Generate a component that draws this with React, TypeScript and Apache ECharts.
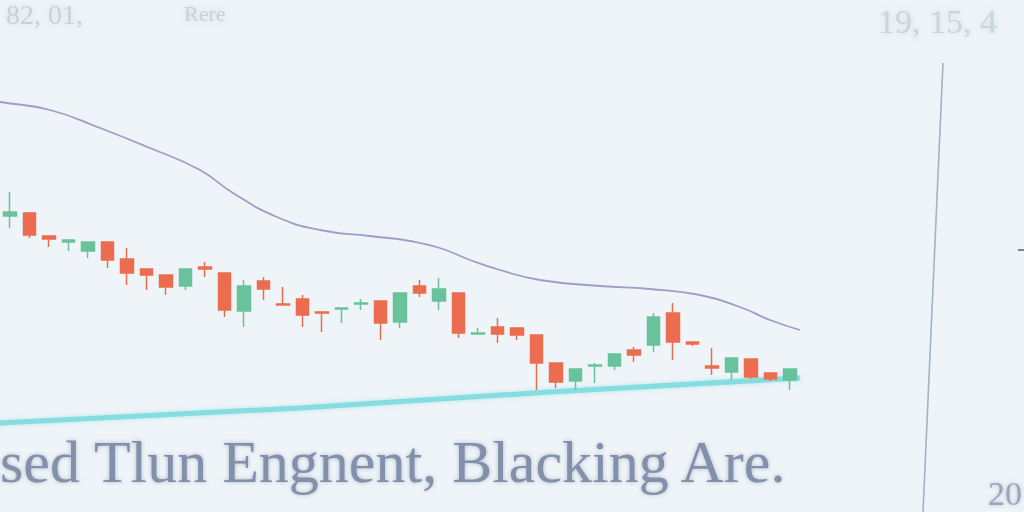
import React, { useEffect, useRef } from "react";
import * as echarts from "echarts";

// Candles: [open, close, low, high]
const candleLabels: string[] = Array.from({ length: 41 }, (_, i) => `D${i + 1}`);
const candleValues: number[][] = [
  [74, 75, 71, 80],
  [74.75, 69.25, 68.5, 75],
  [69, 68.25, 66.25, 69],
  [67.5, 68, 65.25, 68],
  [65.25, 67.5, 63.5, 67.5],
  [67.5, 63, 61, 67.5],
  [63.25, 59.75, 56.75, 66],
  [60.75, 59.25, 55.5, 60.75],
  [59.25, 56.25, 54.25, 59.25],
  [56.5, 60.75, 55.5, 60.75],
  [61.25, 60.75, 58.75, 62.5],
  [59.75, 50.5, 48.75, 59.75],
  [50.25, 56.5, 46.25, 58],
  [57.75, 55.75, 53, 58.75],
  [52, 51.75, 51.75, 56.25],
  [53.25, 49.25, 46.25, 54.25],
  [50, 49.75, 45, 50],
  [50.75, 51, 47.25, 51],
  [52, 52.25, 50.5, 53.25],
  [52.75, 47.25, 43, 52.75],
  [47.5, 54.75, 46, 54.75],
  [56.5, 54.75, 53.75, 58],
  [52.75, 55.75, 50.5, 58.5],
  [54.75, 44.75, 43.5, 54.75],
  [44.5, 44.75, 44.5, 46],
  [46.25, 44.5, 42.25, 48.5],
  [46, 44.25, 43, 46],
  [44.25, 37.25, 30.5, 44.25],
  [37.25, 32.5, 31, 37.25],
  [32.75, 35.75, 30.5, 35.75],
  [36.5, 36.75, 32.25, 37.25],
  [36.5, 39.5, 35.5, 39.5],
  [40.5, 39.25, 37.5, 41.25],
  [41.75, 48.75, 40, 49.75],
  [49.75, 42.5, 38, 52.25],
  [42.5, 42, 41.5, 42.5],
  [36.5, 36, 34.25, 41],
  [35, 38.5, 33, 38.5],
  [38.25, 33.75, 33.25, 38.25],
  [34.75, 33.25, 32.75, 34.75],
  [33, 35.75, 30.5, 35.75],
];

// Moving-average style curve: [position, price]
const maLine: number[][] = [
  [-10, 103], [0, 102.5], [50, 100.5], [100, 96], [150, 91], [200, 85.5], [233, 79.75],
  [277, 73.75], [320, 70.5], [370, 69], [410, 67.75], [440, 66], [470, 63],
  [500, 60.5], [540, 58], [600, 56.5], [650, 55.75], [700, 54.25], [740, 51.25],
  [770, 48], [800, 45.5],
];

// Support trendline: [position, price]
const trendLine: number[][] = [
  [-10, 22], [0, 22.25], [300, 26], [550, 30], [800, 33.5],
];

const bottomCaption = "sed Tlun Engnent, Blacking Are.";
const topLeftCaption = "82, 01,";
const topLeftCaption2 = "Rere";
const topRightCaption = "19, 15, 4";
const bottomRightCaption = "20";

export default function App() {
  const ref = useRef<HTMLDivElement>(null);
  useEffect(() => {
    if (!ref.current) return;
    const chart = echarts.init(ref.current, undefined, { renderer: "svg" });
    chart.setOption({
      animation: false,
      backgroundColor: "#eef4f8",
      grid: { left: 0, top: 0, width: 800, height: 512, containLabel: false },
      xAxis: [
        { type: "category", data: candleLabels, show: false, boundaryGap: true },
        { type: "value", min: 0, max: 800, show: false },
      ],
      yAxis: { type: "value", min: 0, max: 128, show: false, splitLine: { show: false } },
      series: [
        {
          type: "line",
          xAxisIndex: 1,
          data: maLine,
          smooth: true,
          showSymbol: false,
          lineStyle: { color: "#a29cc8", width: 1.8 },
          z: 1,
        },
        {
          type: "line",
          xAxisIndex: 1,
          data: trendLine,
          smooth: false,
          showSymbol: false,
          lineStyle: { color: "#86dde0", width: 5, shadowColor: "rgba(134,221,224,0.6)", shadowBlur: 4 },
          z: 1,
        },
        {
          type: "candlestick",
          data: candleValues,
          barWidth: 13,
          itemStyle: {
            color: "#68c39c",
            color0: "#ec6c4f",
            borderColor: "#68c39c",
            borderColor0: "#ec6c4f",
            borderWidth: 1.5,
          },
          z: 3,
        },
      ],
      graphic: [
        {
          type: "line",
          shape: { x1: 943, y1: 63, x2: 923, y2: 512 },
          style: { stroke: "#a6b3c2", lineWidth: 1.6 },
        },
        {
          type: "line",
          shape: { x1: 1018, y1: 250, x2: 1024, y2: 250 },
          style: { stroke: "#555f70", lineWidth: 1.5 },
        },
        {
          type: "text",
          left: 0,
          top: 432,
          style: {
            text: bottomCaption,
            font: "60px 'Liberation Serif', serif",
            fill: "#8390ab",
            textShadowColor: "rgba(131,144,171,0.6)",
            textShadowBlur: 4,
          },
        },
        {
          type: "text",
          left: 6,
          top: 0,
          style: {
            text: topLeftCaption,
            font: "28px 'Liberation Serif', serif",
            fill: "#c8d2dc",
            textShadowColor: "rgba(200,210,222,0.8)",
            textShadowBlur: 6,
          },
        },
        {
          type: "text",
          left: 184,
          top: 2,
          style: {
            text: topLeftCaption2,
            font: "22px 'Liberation Serif', serif",
            fill: "#c8d2dc",
            textShadowColor: "rgba(200,210,222,0.8)",
            textShadowBlur: 6,
          },
        },
        {
          type: "text",
          left: 878,
          top: 4,
          style: {
            text: topRightCaption,
            font: "34px 'Liberation Serif', serif",
            fill: "#cbd5df",
            textShadowColor: "rgba(200,210,222,0.8)",
            textShadowBlur: 6,
          },
        },
        {
          type: "text",
          left: 988,
          top: 476,
          style: {
            text: bottomRightCaption,
            font: "34px 'Liberation Serif', serif",
            fill: "#9aa6bb",
            textShadowColor: "rgba(154,166,187,0.7)",
            textShadowBlur: 4,
          },
        },
      ],
    });
    return () => chart.dispose();
  }, []);
  return <div ref={ref} style={{ width: 1024, height: 512, position: "fixed", left: 0, top: 0 }} />;
}
